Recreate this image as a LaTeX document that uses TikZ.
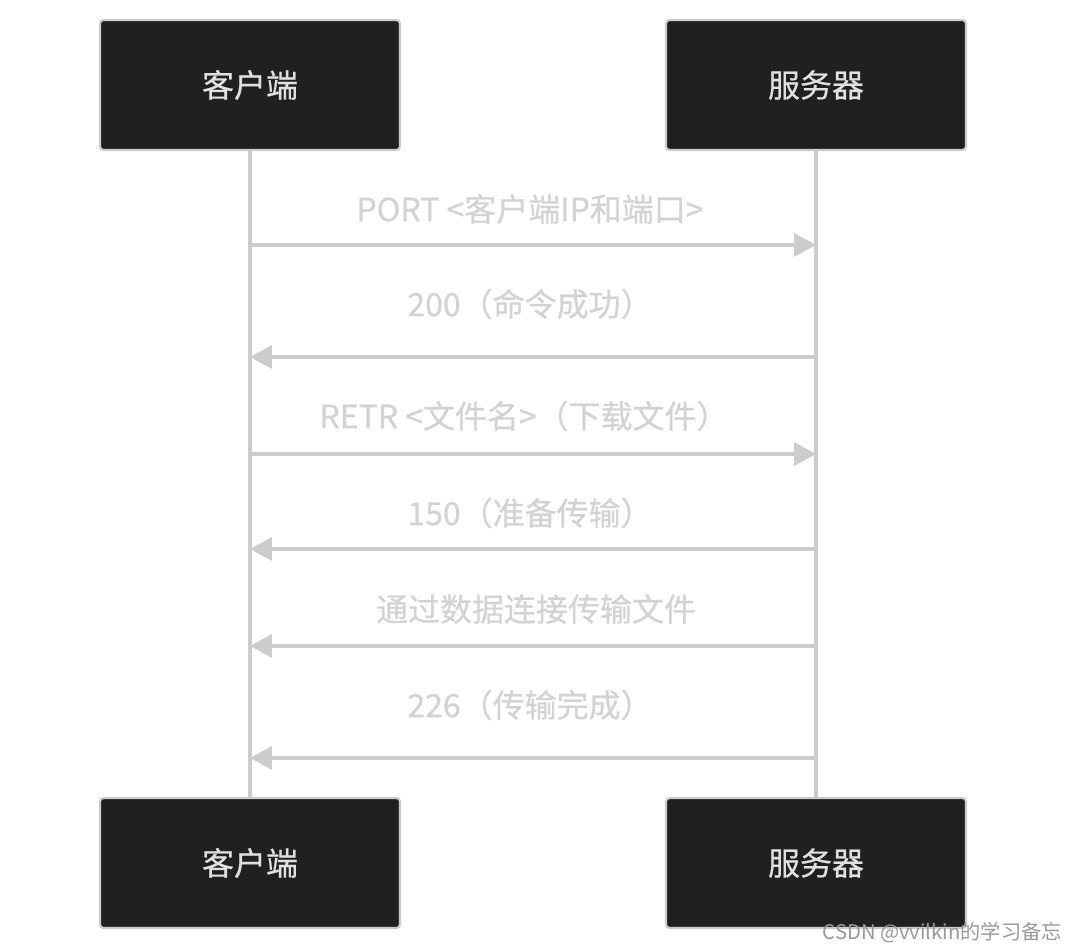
\documentclass[tikz,border=0pt]{standalone}
\usepackage{fontspec}
\setmainfont{Noto Sans CJK SC}[FakeBold=0.6]
\newfontfamily\wmfont{Noto Sans CJK SC}
\usepackage{tikz}
\usetikzlibrary{arrows.meta,positioning,calc}
\definecolor{boxfill}{HTML}{1F2020}
\definecolor{lifegray}{HTML}{CCCCCC}
\definecolor{msggray}{HTML}{D3D3D3}

\begin{document}
\begin{tikzpicture}[x=0.02cm,y=-0.02cm,>={Triangle[length=0.44cm,width=0.46cm]},
  actor/.style={draw=lifegray,line width=1.2pt,fill=boxfill,rounded corners=2pt,minimum width=6cm,minimum height=2.6cm,inner sep=0pt,text=white!88!black,font=\fontsize{18.2pt}{20pt}\selectfont},
  life/.style={draw=lifegray,line width=2.1pt},
  msg/.style={draw=lifegray,line width=2.1pt,->},
  lbl/.style={text=msggray,font=\fontsize{18.2pt}{20pt}\selectfont,inner sep=0pt}]
\useasboundingbox (0,0) rectangle (1066,950);
\node[actor] (c0) at (250,85) {客户端};
\node[actor] (s0) at (816,85) {服务器};
\node[actor] (c1) at (250,863) {客户端};
\node[actor] (s1) at (816,863) {服务器};
\draw[life] (c0)--(c1); \draw[life] (s0)--(s1);
\coordinate (c2) at (250,245); \coordinate (s2) at (816,245);
\coordinate (c3) at (250,357); \coordinate (s3) at (816,357);
\coordinate (c4) at (250,454); \coordinate (s4) at (816,454);
\coordinate (c5) at (250,549); \coordinate (s5) at (816,549);
\coordinate (c6) at (250,646); \coordinate (s6) at (816,646);
\coordinate (c7) at (250,758); \coordinate (s7) at (816,758);
\draw[msg] (c2)--(s2); \draw[msg] (s3)--(c3); \draw[msg] (c4)--(s4);
\draw[msg] (s5)--(c5); \draw[msg] (s6)--(c6); \draw[msg] (s7)--(c7);
\node[lbl] (m2) at (530,209) {PORT <客户端IP和端口>};
\node[lbl] (m3) at (530,304) {200（命令成功）};
\node[lbl] (m4) at (524,416) {RETR <文件名>（下载文件）};
\node[lbl] (m5) at (530,513) {150（准备传输）};
\node[lbl] (m6) at (536,609) {通过数据连接传输文件};
\node[lbl] (m7) at (530,705) {226（传输完成）};
\node[text=gray!80,font=\wmfont\fontsize{11.5pt}{13pt}\selectfont,inner sep=0pt,anchor=east] (wm) at (1062,933) {CSDN @vvilkin的学习备忘};
\end{tikzpicture}
\end{document}
